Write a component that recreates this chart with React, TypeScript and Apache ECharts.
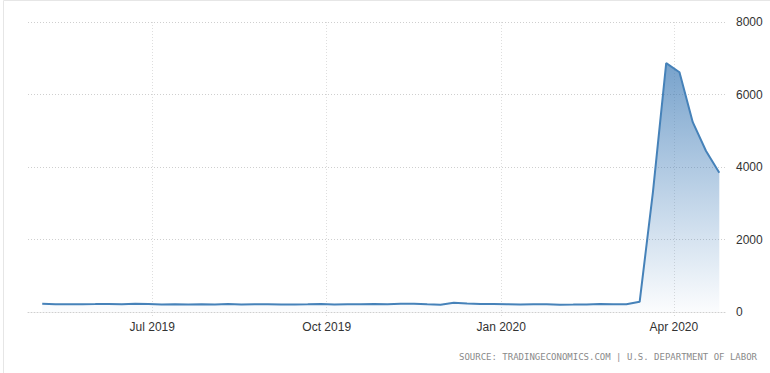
import React, { useEffect, useRef } from "react";
import * as echarts from "echarts";

const weekDates: string[] = [
  "2019-05-04", "2019-05-11", "2019-05-18", "2019-05-25",
  "2019-06-01", "2019-06-08", "2019-06-15", "2019-06-22", "2019-06-29",
  "2019-07-06", "2019-07-13", "2019-07-20", "2019-07-27",
  "2019-08-03", "2019-08-10", "2019-08-17", "2019-08-24", "2019-08-31",
  "2019-09-07", "2019-09-14", "2019-09-21", "2019-09-28",
  "2019-10-05", "2019-10-12", "2019-10-19", "2019-10-26",
  "2019-11-02", "2019-11-09", "2019-11-16", "2019-11-23", "2019-11-30",
  "2019-12-07", "2019-12-14", "2019-12-21", "2019-12-28",
  "2020-01-04", "2020-01-11", "2020-01-18", "2020-01-25",
  "2020-02-01", "2020-02-08", "2020-02-15", "2020-02-22", "2020-02-29",
  "2020-03-07", "2020-03-14", "2020-03-21", "2020-03-28",
  "2020-04-04", "2020-04-11", "2020-04-18", "2020-04-25",
];

const claims: number[] = [
  228, 212, 211, 215,
  218, 222, 216, 227, 221,
  209, 216, 206, 215,
  209, 220, 209, 215, 217,
  204, 208, 213, 219,
  210, 214, 212, 218,
  211, 225, 227, 213, 203,
  252, 234, 222, 220,
  214, 204, 211, 216,
  202, 205, 210, 219, 216,
  211, 282, 3307, 6867,
  6615, 5237, 4442, 3839,
];

const yTicks = { min: 0, max: 8000, interval: 2000 };
const xRange = { min: "2019-04-26 12:00", max: "2020-04-28" };
const sourceText = "SOURCE: TRADINGECONOMICS.COM | U.S. DEPARTMENT OF LABOR";
const monthNames = ["Jan", "Feb", "Mar", "Apr", "May", "Jun", "Jul", "Aug", "Sep", "Oct", "Nov", "Dec"];

export default function App() {
  const ref = useRef<HTMLDivElement>(null);
  useEffect(() => {
    if (!ref.current) return;
    const chart = echarts.init(ref.current, undefined, { renderer: "svg" });
    const DAY = 24 * 3600 * 1000;
    chart.setOption({
      animation: false,
      backgroundColor: "#ffffff",
      grid: { left: 28, right: 45, top: 22, bottom: 61, containLabel: false },
      xAxis: {
        type: "time",
        min: new Date(xRange.min).getTime(),
        max: new Date(xRange.max).getTime(),
        minInterval: 91 * DAY,
        maxInterval: 92 * DAY,
        axisLine: { show: true, lineStyle: { color: "#cfcfcf", type: [1, 2], width: 1 } },
        axisTick: { show: true, length: 6, lineStyle: { color: "#d8d8d8", type: [1, 2] } },
        splitLine: {
          show: true,
          showMinLine: false,
          showMaxLine: false,
          lineStyle: { color: "#dedede", type: [1, 2], width: 1 },
        },
        axisLabel: {
          color: "#333333",
          fontFamily: "Liberation Sans, Arial, sans-serif",
          fontSize: 12,
          margin: 9,
          hideOverlap: false,
          showMinLabel: false,
          showMaxLabel: false,
          formatter: (v: number) => {
            const d = new Date(v);
            return monthNames[d.getMonth()] + " " + d.getFullYear();
          },
        },
      },
      yAxis: {
        type: "value",
        position: "right",
        min: yTicks.min,
        max: yTicks.max,
        interval: yTicks.interval,
        axisLine: { show: false },
        axisTick: { show: false },
        splitLine: { show: true, lineStyle: { color: "#cfcfcf", type: [1, 2], width: 1 } },
        axisLabel: {
          color: "#333333",
          fontFamily: "Liberation Sans, Arial, sans-serif",
          fontSize: 12,
          margin: 11,
          formatter: (v: number) => String(v),
        },
      },
      series: [
        {
          type: "line",
          data: weekDates.map((d, i) => [d, claims[i]]),
          showSymbol: false,
          symbol: "none",
          lineStyle: { color: "#4682b9", width: 2 },
          areaStyle: {
            color: new echarts.graphic.LinearGradient(0, 0, 0, 1, [
              { offset: 0, color: "rgba(61,122,181,1)" },
              { offset: 1, color: "rgba(70,130,190,0.03)" },
            ]),
          },
        },
      ],
      graphic: [
        {
          type: "rect",
          shape: { x: 3.5, y: 0.5, width: 800, height: 400 },
          style: { fill: "none", stroke: "#e6e6e6", lineWidth: 1 },
          silent: true,
        },
        {
          type: "text",
          right: 13,
          top: 352,
          style: {
            text: sourceText,
            fill: "#8a8a8a",
            fontSize: 9,
            fontFamily: "DejaVu Sans Mono, monospace",
          },
        },
      ],
    });
    return () => chart.dispose();
  }, []);
  return (
    <div
      ref={ref}
      style={{ position: "fixed", left: 0, top: 0, width: 770, height: 373 }}
    />
  );
}
